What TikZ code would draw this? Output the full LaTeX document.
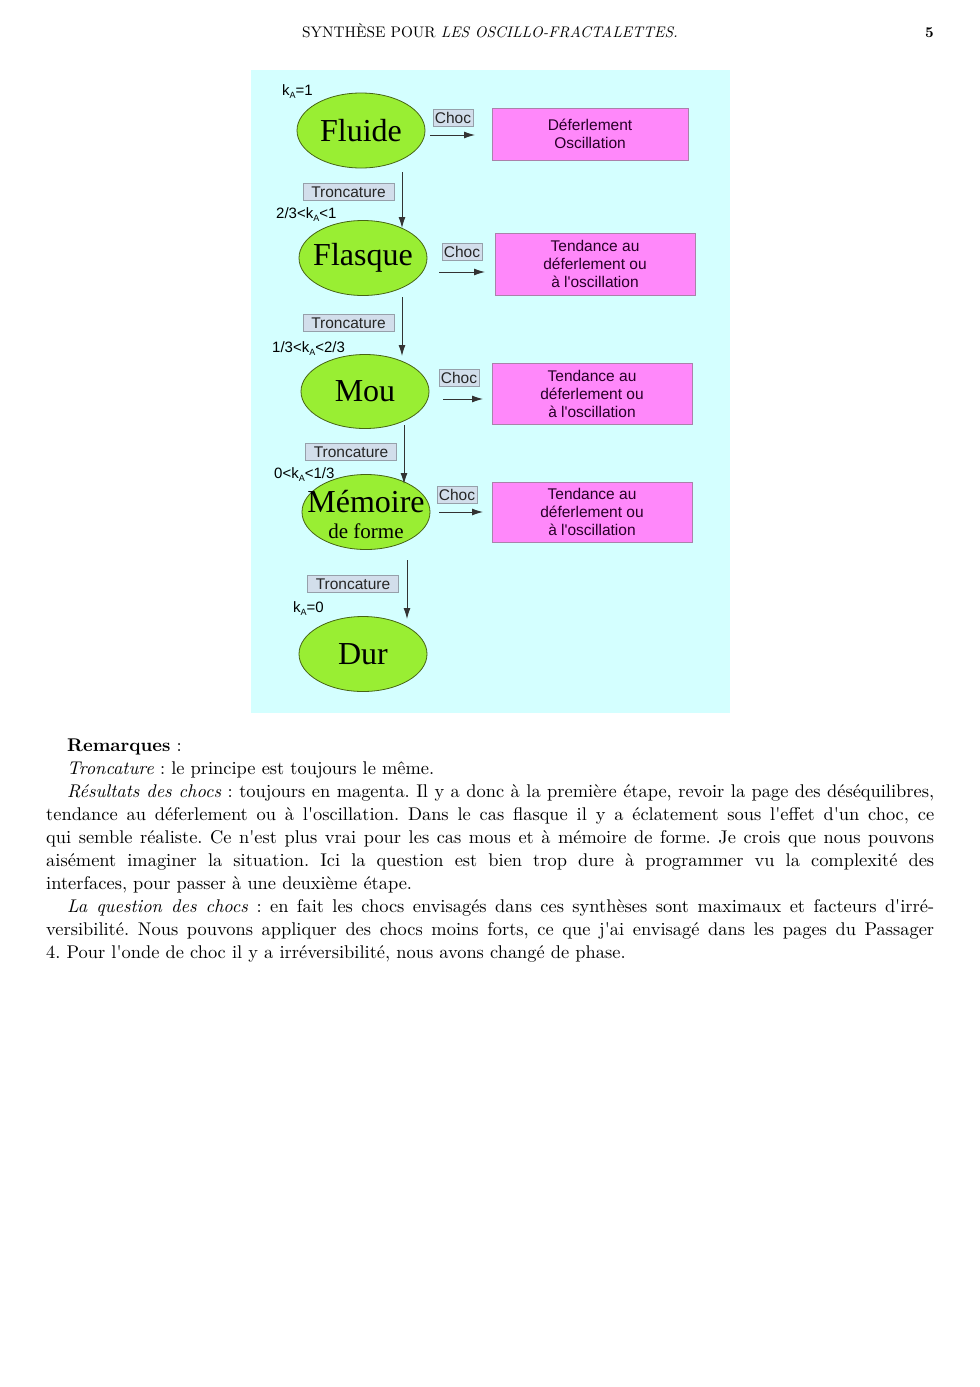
\documentclass[tikz,border=0pt]{standalone}
\usepackage{fontspec}
\usetikzlibrary{shapes.geometric,arrows.meta}
\newfontfamily\cmten{lmroman10-regular.otf}[BoldFont=lmroman10-bold.otf,ItalicFont=lmroman10-italic.otf]
\newfontfamily\labsans{Liberation Sans}
\newfontfamily\labserif{Liberation Serif}
\definecolor{bgcyan}{RGB}{212,255,255}
\definecolor{limeg}{RGB}{153,238,51}
\definecolor{limeborder}{RGB}{70,100,20}
\definecolor{pinkbox}{RGB}{255,136,250}
\definecolor{pinkborder}{RGB}{170,130,170}
\definecolor{tagfill}{RGB}{210,222,235}
\definecolor{tagborder}{RGB}{150,160,170}
\definecolor{pinktext}{RGB}{40,0,40}
\tikzset{
  stateell/.style={ellipse, draw=limeborder, fill=limeg, line width=0.8pt,
    minimum width=128pt, minimum height=75pt, inner sep=0pt},
  statetxt/.style={inner sep=0pt, align=center, font=\labserif\fontsize{32}{34}\selectfont},
  resbox/.style={rectangle, draw=pinkborder, fill=pinkbox, line width=0.8pt,
    inner sep=0pt, align=center, text=pinktext,
    font=\labsans\fontsize{15.5}{18}\selectfont},
  tagbox/.style={rectangle, draw=tagborder, fill=tagfill, line width=0.6pt,
    inner xsep=1pt, inner ysep=0pt, minimum height=16.5pt, text=black!85,
    font=\labsans\fontsize{15.5}{16}\selectfont},
  choctag/.style={tagbox, minimum width=40pt},
  trtag/.style={tagbox, minimum width=91pt},
  klab/.style={inner sep=0pt, font=\labsans\fontsize{15}{16}\selectfont},
  arr/.style={draw=black!80, line width=0.9pt, -{Latex[length=11pt,width=7pt]}},
}
\newcommand{\kA}{k\raisebox{-3pt}{\fontsize{9}{9}\selectfont A}}
\begin{document}
\begin{tikzpicture}[x=1pt,y=-1pt]
\useasboundingbox (0,0) rectangle (980,1387);
% header
\node[anchor=base, inner sep=0pt, font=\cmten\fontsize{15.3}{18}\selectfont] (header) at (490,37)
  {SYNTHÈSE POUR \textit{LES OSCILLO-FRACTALETTES.}};
\node[anchor=base east, inner sep=0pt, font=\cmten\fontsize{15}{18}\selectfont\bfseries] (pagenum) at (934,37) {5};
% background
\fill[bgcyan] (251,70) rectangle (730,713);
% states
\node[stateell] (fluide) at (361,130.5) {};
\node[statetxt] (fluideT) at (fluide) {Fluide};
\node[stateell] (flasque) at (363,258) {};
\node[statetxt] (flasqueT) at (flasque) {Flasque};
\node[stateell, minimum height=74pt] (mou) at (365,391.5) {};
\node[statetxt] (mouT) at (mou) {Mou};
\node[stateell] (memoire) at (366,512) {};
\node[statetxt] (memoireT) at (366,514) {Mémoire\\[-8pt]{\fontsize{21}{22}\selectfont de forme}};
\node[stateell] (dur) at (363,654) {};
\node[statetxt] (durT) at (dur) {Dur};
% result boxes
\node[resbox, minimum width=196pt, minimum height=52pt] (r1) at (590,134) {Déferlement\\Oscillation};
\node[resbox, minimum width=200pt, minimum height=62pt] (r2) at (595,264) {Tendance au\\déferlement ou\\à l'oscillation};
\node[resbox, minimum width=200pt, minimum height=61pt] (r3) at (592,393.5) {Tendance au\\déferlement ou\\à l'oscillation};
\node[resbox, minimum width=200pt, minimum height=60pt] (r4) at (592,512) {Tendance au\\déferlement ou\\à l'oscillation};
% choc tags
\node[choctag] (ch1) at (453,118) {Choc};
\node[choctag] (ch2) at (462,252) {Choc};
\node[choctag] (ch3) at (459,378) {Choc};
\node[choctag] (ch4) at (457,495) {Choc};
% choc arrows
\coordinate (c1s) at (430,135); \coordinate (c1e) at (475,135);
\coordinate (c2s) at (439,272); \coordinate (c2e) at (485,272);
\coordinate (c3s) at (443,399); \coordinate (c3e) at (483,399);
\coordinate (c4s) at (439,512); \coordinate (c4e) at (483,512);
\draw[arr] (c1s) -- (c1e);
\draw[arr] (c2s) -- (c2e);
\draw[arr] (c3s) -- (c3e);
\draw[arr] (c4s) -- (c4e);
% troncature tags
\node[trtag] (t1) at (348.5,192) {Troncature};
\node[trtag] (t2) at (348.5,323) {Troncature};
\node[trtag] (t3) at (351,452) {Troncature};
\node[trtag] (t4) at (353,584) {Troncature};
% vertical arrows
\coordinate (a1s) at (402,172); \coordinate (a1e) at (402,228);
\coordinate (a2s) at (402,297); \coordinate (a2e) at (402,356);
\coordinate (a3s) at (404,425); \coordinate (a3e) at (404,484);
\coordinate (a4s) at (407,560); \coordinate (a4e) at (407,619);
\draw[arr] (a1s) -- (a1e);
\draw[arr] (a2s) -- (a2e);
\draw[arr] (a3s) -- (a3e);
\draw[arr] (a4s) -- (a4e);
% k labels
\node[klab, anchor=base west] (k1) at (282,95) {\kA=1};
\node[klab, anchor=base west] (k2) at (276,218) {2/3<\kA<1};
\node[klab, anchor=base west] (k3) at (272,352) {1/3<\kA<2/3};
\node[klab, anchor=base west] (k4) at (274,478) {0<\kA<1/3};
\node[klab, anchor=base west] (k5) at (293,612) {\kA=0};
% body text
\node[anchor=north west, inner sep=0pt, text width=888pt, align=justify,
  font=\cmten\fontsize{18.4}{23}\selectfont\frenchspacing] (body) at (46,739) {%
\hspace*{21pt}\textbf{Remarques} :\par
\hspace*{21pt}\textit{Troncature} : le principe est toujours le même.\par
\hspace*{21pt}\textit{Résultats des chocs} : toujours en magenta. Il y a donc à la première étape, revoir la page des déséquilibres,\linebreak
tendance au déferlement ou à l'oscillation. Dans le cas flasque il y a éclatement sous l'effet d'un choc, ce\linebreak
qui semble réaliste. Ce n'est plus vrai pour les cas mous et à mémoire de forme. Je crois que nous pouvons\linebreak
aisément imaginer la situation. Ici la question est bien trop dure à programmer vu la complexité des\linebreak
interfaces, pour passer à une deuxième étape.\par
\hspace*{21pt}\textit{La question des chocs} : en fait les chocs envisagés dans ces synthèses sont maximaux et facteurs d'irré-\linebreak
versibilité. Nous pouvons appliquer des chocs moins forts, ce que j'ai envisagé dans les pages du Passager\linebreak
4. Pour l'onde de choc il y a irréversibilité, nous avons changé de phase.\par};
\end{tikzpicture}
\end{document}
